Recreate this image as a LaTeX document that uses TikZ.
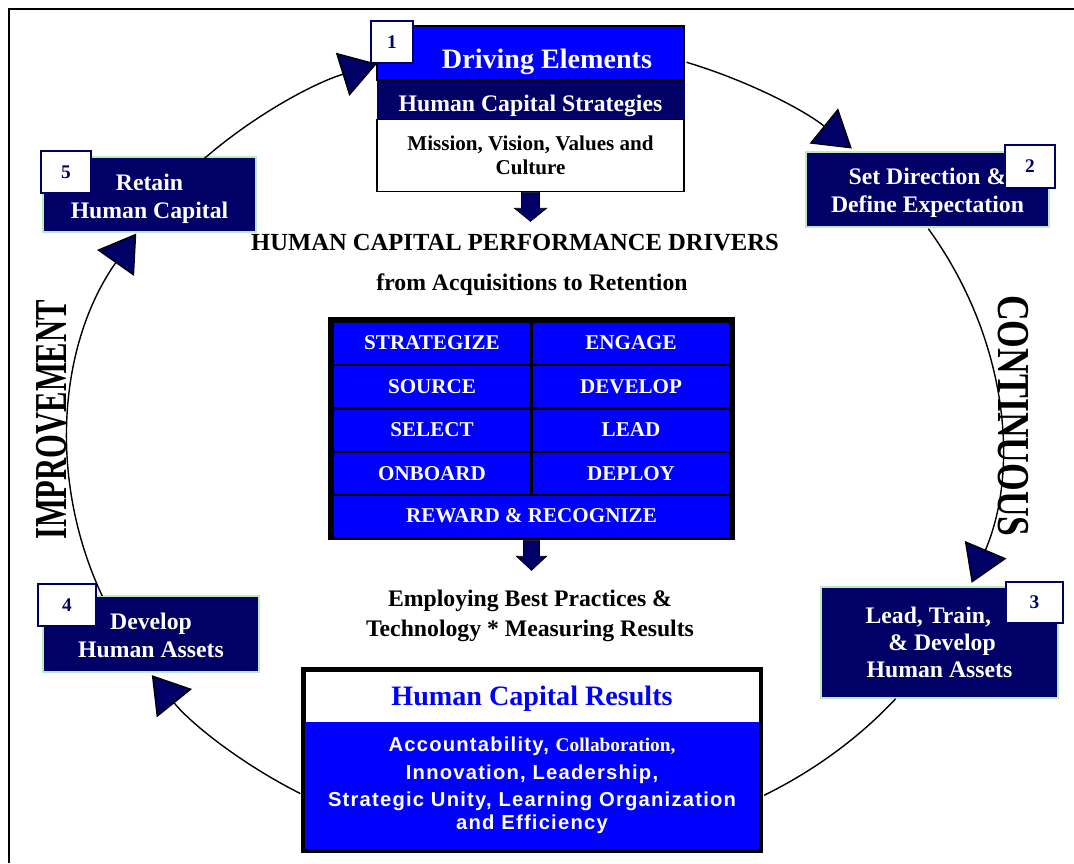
\documentclass[tikz,border=0pt]{standalone}
\usepackage{graphicx}
\usepackage{fontspec}
\setmainfont{Liberation Serif}
\setsansfont{Liberation Sans}
\newfontfamily\widesans[LetterSpace=6]{Liberation Sans}
\usetikzlibrary{positioning,arrows.meta}

\definecolor{hc_navy}{RGB}{0,0,102}
\definecolor{hc_blue}{RGB}{0,0,255}
\definecolor{hc_green}{RGB}{190,235,190}

\begin{document}
\begin{tikzpicture}[x=0.02cm, y=-0.02cm]
        \tikzset{
            stage/.style={
                draw=hc_green,
                fill=hc_navy,
                line width=1pt,
                text=white,
                align=center,
                inner sep=0pt,
                font=\fontsize{13.5}{15.5}\selectfont\bfseries
            },
            twoline/.style={text height=#1, text depth=0pt},
            num/.style={
                draw=hc_navy,
                fill=white,
                line width=1.2pt,
                text=hc_navy,
                inner sep=0pt,
                minimum height=0.84cm,
                font=\fontsize{11}{13}\selectfont\bfseries
            },
            cell/.style={
                fill=hc_blue,
                text=white,
                inner sep=0pt,
                minimum width=3.92cm,
                minimum height=0.82cm,
                font=\fontsize{12}{14}\selectfont\bfseries
            },
            caption/.style={
                align=center,
                font=\fontsize{13.5}{17}\selectfont\bfseries
            },
            ring/.style={line width=0.8pt},
            cyc/.style={ring, -{Triangle[length=0.72cm, width=0.9cm, fill=hc_navy]}},
            blockarr/.style={fill=hc_navy, draw=black, line width=0.4pt}
        }
        \useasboundingbox (0,0) rectangle (1074,863);

        \draw[line width=1.4pt] (9,863) -- (9,9) -- (1074,9);

        %driving elements
        \node[draw, fill=hc_blue, line width=1pt, minimum width=6.14cm, minimum height=1.08cm, inner sep=0pt, text=white, font=\fontsize{16}{18}\selectfont\bfseries] (driving) at (530.5,53) {\raisebox{-0.3cm}[0pt][0pt]{\hspace*{0.66cm}Driving Elements}};
        \node[draw=hc_navy, fill=hc_navy, minimum width=6.14cm, minimum height=0.74cm, inner sep=0pt, text=white, font=\fontsize{13.5}{15}\selectfont\bfseries, below=0pt of driving] (strategies) {\raisebox{-0.23cm}[0pt][0pt]{Human Capital Strategies}};
        \node[draw, fill=white, line width=1pt, minimum width=6.14cm, minimum height=1.44cm, inner sep=0pt, align=center, font=\fontsize{12}{14}\selectfont\bfseries, below=0pt of strategies] (mission) {Mission, Vision, Values and\\Culture};
        \node[num, minimum width=0.84cm] (n1) at (392,42) {1};

        \filldraw[blockarr] (mission.south) ++(-9,0) -- ++(0,16) -- ++(-7,0) -- ++(16,13) -- ++(16,-13) -- ++(-7,0) -- ++(0,-16) -- cycle;

        \node[caption, font=\fontsize{14}{17}\selectfont\bfseries] (drivers) at (515,243) {HUMAN CAPITAL PERFORMANCE DRIVERS};
        \node[caption] (acq) at (532,285) {from Acquisitions to Retention};

        %tabela
        \node[fill=black, minimum width=8.14cm, minimum height=4.46cm, inner sep=0pt] (grid) at (531.5,428.5) {};
        \node[cell] (strategize) at (432,343) {STRATEGIZE};
        \node[cell] (engage) at (631,343) {ENGAGE};
        \node[cell] (source) at (432,386.5) {SOURCE};
        \node[cell] (develop) at (631,386.5) {DEVELOP};
        \node[cell] (select) at (432,430) {SELECT};
        \node[cell] (lead) at (631,430) {LEAD};
        \node[cell] (onboard) at (432,473.5) {ONBOARD};
        \node[cell] (deploy) at (631,473.5) {DEPLOY};
        \node[cell, minimum width=7.9cm] (reward) at (531.5,516) {REWARD \& RECOGNIZE};

        \filldraw[blockarr] (grid.south) ++(-8,0) -- ++(0,16) -- ++(-7,0) -- ++(15,14) -- ++(15,-14) -- ++(-7,0) -- ++(0,-16) -- cycle;

        \node[caption] (practices) at (530,616) {Employing Best Practices \&\\Technology * Measuring Results};

        %resultados
        \node[fill=black, minimum width=9.24cm, minimum height=3.72cm, inner sep=0pt] (results) at (532,760) {};
        \node[draw, fill=white, line width=0.5pt, minimum width=9.08cm, minimum height=1.02cm, inner sep=0pt, text=hc_blue, font=\fontsize{16}{18}\selectfont\bfseries] (restitle) at (532,696.5) {\raisebox{-0.17cm}[0pt][0pt]{Human Capital Results}};
        \node[fill=hc_blue, minimum width=9.08cm, minimum height=2.54cm, inner sep=0pt, text=white, align=center, font=\widesans\fontsize{11.5}{13}\selectfont\bfseries] (resbody) at (532,785.5) {Accountability, {\rmfamily\fontsize{11}{13}\selectfont Collaboration,}\\[3pt]Innovation, Leadership,\\[2.4pt]Strategic Unity, Learning Organization\\and Efficiency};

        %etapas
        \node[stage, twoline=0.9cm, minimum width=4.86cm, minimum height=1.5cm] (setdir) at (927.5,189.5) {Set Direction \&\\Define Expectation};
        \node[num, minimum width=1.0cm, minimum height=0.86cm] (n2) at (1030,166.5) {2};
        \node[stage, minimum width=4.74cm, minimum height=2.22cm] (leadtrain) at (939.5,642.5) {Lead, Train,\hspace*{0.45cm}\\\hspace*{0.1cm}\& Develop\\Human Assets};
        \node[num, minimum width=1.14cm, minimum height=0.82cm] (n3) at (1034.5,602.5) {3};
        \node[stage, twoline=0.92cm, minimum width=4.32cm, minimum height=1.52cm] (devassets) at (151,634) {Develop\\Human Assets};
        \node[num, minimum width=1.16cm] (n4) at (67,605) {4};
        \node[stage, twoline=0.94cm, minimum width=4.26cm, minimum height=1.5cm] (retain) at (149.5,194.5) {Retain\\Human Capital};
        \node[num, minimum width=1.0cm] (n5) at (66,172) {5};

        \node[rotate=90, font=\fontsize{26}{28}\selectfont\bfseries] (improve) at (52,420) {\scalebox{0.67}[1]{IMPROVEMENT}};
        \node[rotate=-90, font=\fontsize{26}{28}\selectfont\bfseries] (continuous) at (1013,416) {\scalebox{0.78}[1]{CONTINUOUS}};

        %ciclo
        \coordinate (ctr) at (534,444);
        \draw[cyc] ([shift={(157.9:466 and 404)}]ctr) arc[start angle=157.9, end angle=211.4, x radius=466, y radius=404];
        \draw[cyc] ([shift={(224.8:466 and 404)}]ctr) arc[start angle=224.8, end angle=250.3, x radius=466, y radius=404];
        \draw[cyc] ([shift={(289.1:466 and 404)}]ctr) arc[start angle=289.1, end angle=313, x radius=466, y radius=404];
        \draw[cyc] ([shift={(327.8:466 and 404)}]ctr) arc[start angle=327.8, end angle=380.1, x radius=466, y radius=404];
        \draw[ring] ([shift={(39.1:466 and 404)}]ctr) arc[start angle=39.1, end angle=60.4, x radius=466, y radius=404];
        \draw[cyc] ([shift={(120.1:466 and 404)}]ctr) arc[start angle=120.1, end angle=145.1, x radius=466, y radius=404];

    \end{tikzpicture}
\end{document}
